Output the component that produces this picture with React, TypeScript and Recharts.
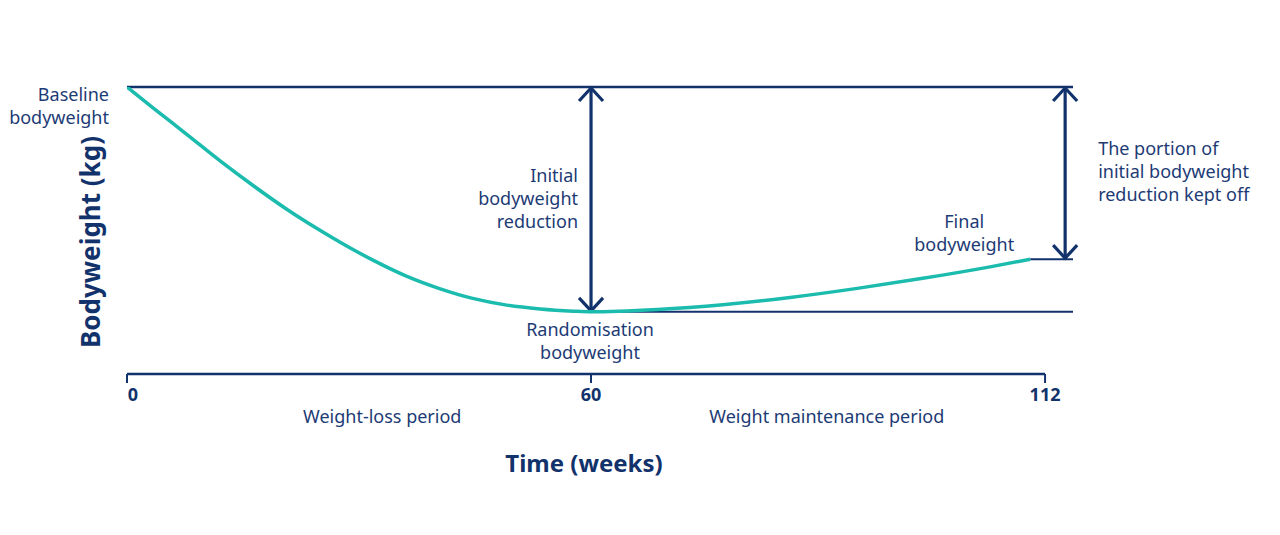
import React from "react";
import {
  LineChart,
  Line,
  XAxis,
  YAxis,
  ReferenceLine,
  ReferenceDot,
} from "recharts";

// curve: weeks since start, bodyweight (arbitrary kg)
const weeks = [0, 3.4, 7.8, 12.0, 16.3, 20.7, 25.0, 27.5, 31.8, 36.2, 40.5, 44.7, 49.1, 53.4, 57.7, 60, 67.6, 75.1, 82.8, 90.5, 98.0, 105.7, 110.3];
const bodyweight = [100, 97.8, 95.0, 92.3, 89.7, 87.2, 85.0, 83.8, 81.9, 80.2, 78.9, 77.9, 77.2, 76.8, 76.57, 76.5, 76.75, 77.25, 78.0, 78.95, 80.0, 81.2, 82.0];

const tickWeeks = [0, 60, 112];
const periodLabels = ["Weight-loss period", "Weight maintenance period"];
const periodWeeks = [33, 87];

const baselineWeight = 100;
const randomisationWeight = 76.5;
const finalWeight = 82.0;
const randomisationWeek = 60;
const finalWeek = 110.3;
const keptOffWeek = 114.3;
const endWeek = 115.2;

const data = weeks.map((w, i) => ({ week: w, weight: bodyweight[i] }));

const NAVY = "#12326c";
const TEXT = "#1d3b75";
const TEAL = "#1bbbae";
const FONT = "'Noto Sans', sans-serif";

// the picture's time axis is not linear: 0-60 and 60-112 have their own spacing
const WEEK_BREAKS = [0, 60, 112];
const SCREEN_BREAKS = [0, 464, 918];

function warp(w: number) {
  for (let i = 1; i < WEEK_BREAKS.length; i++) {
    if (w <= WEEK_BREAKS[i] || i === WEEK_BREAKS.length - 1) {
      const t = (w - WEEK_BREAKS[i - 1]) / (WEEK_BREAKS[i] - WEEK_BREAKS[i - 1]);
      return SCREEN_BREAKS[i - 1] + t * (SCREEN_BREAKS[i] - SCREEN_BREAKS[i - 1]);
    }
  }
  return 0;
}

function makeWeekScale(dom: number[] = [0, 1], rng: number[] = [0, 1]): any {
  const s: any = (w: number) => {
    const a = warp(dom[0]);
    const b = warp(dom[dom.length - 1]);
    return rng[0] + ((warp(w) - a) / (b - a)) * (rng[rng.length - 1] - rng[0]);
  };
  s.domain = (...args: any[]) => {
    if (!args.length) return dom.slice();
    dom = args[0].map(Number);
    return s;
  };
  s.range = (...args: any[]) => {
    if (!args.length) return rng.slice();
    rng = args[0].map(Number);
    return s;
  };
  s.copy = () => makeWeekScale(dom.slice(), rng.slice());
  s.ticks = () => tickWeeks;
  s.tickFormat = () => (v: number) => String(v);
  s.nice = () => s;
  s.clamp = () => s;
  s.invert = (px: number) => {
    const a = warp(dom[0]);
    const b = warp(dom[dom.length - 1]);
    const p = a + ((px - rng[0]) / (rng[rng.length - 1] - rng[0])) * (b - a);
    for (let i = 1; i < SCREEN_BREAKS.length; i++) {
      if (p <= SCREEN_BREAKS[i] || i === SCREEN_BREAKS.length - 1) {
        const t = (p - SCREEN_BREAKS[i - 1]) / (SCREEN_BREAKS[i] - SCREEN_BREAKS[i - 1]);
        return WEEK_BREAKS[i - 1] + t * (WEEK_BREAKS[i] - WEEK_BREAKS[i - 1]);
      }
    }
    return 0;
  };
  return s;
}

const weekScale = makeWeekScale();

const DoubleArrow = (p: any) => {
  const { x1, y1, x2, y2 } = p;
  const top = Math.min(y1, y2);
  const bottom = Math.max(y1, y2);
  const w = 12;
  const h = 14;
  return (
    <g stroke={NAVY} strokeWidth={3.2} fill="none">
      <line x1={x1} y1={top} x2={x2} y2={bottom} />
      <polyline points={`${x1 - w},${top + h} ${x1},${top + 1} ${x1 + w},${top + h}`} />
      <polyline points={`${x2 - w},${bottom - h} ${x2},${bottom - 1} ${x2 + w},${bottom - h}`} />
    </g>
  );
};

// multi-line note anchored to a data point; dx / first-line dy in pixels
const note = (lines: string[], dx: number, dy: number, anchor: string, size = 18, weight = 400) =>
  (p: any) => (
    <text
      x={p.cx + dx}
      y={p.cy + dy}
      textAnchor={anchor as any}
      fill={TEXT}
      fontFamily={FONT}
      fontSize={size}
      fontWeight={weight}
    >
      {lines.map((l, i) => (
        <tspan key={i} x={p.cx + dx} dy={i === 0 ? 0 : 23}>
          {l}
        </tspan>
      ))}
    </text>
  );

const WeekTick = (p: any) => {
  const { x, y, payload } = p;
  return (
    <text
      x={x + (payload.value === 0 ? 6 : 0)}
      y={y + 16}
      textAnchor="middle"
      fill={NAVY}
      fontFamily={FONT}
      fontSize={18}
      fontWeight={700}
    >
      {payload.value}
    </text>
  );
};

export default function App() {
  const midInitial = (baselineWeight + randomisationWeight) / 2;
  const midKept = (baselineWeight + finalWeight) / 2;
  return (
    <div style={{ position: "absolute", left: 0, top: 0, width: 1280, height: 535, background: "#fff" }}>
      <LineChart
        width={1280}
        height={535}
        data={data}
        margin={{ top: 87, right: 207, bottom: 121, left: 127 }}
      >
        <XAxis
          dataKey="week"
          type="number"
          scale={weekScale}
          domain={[0, endWeek]}
          allowDataOverflow
          ticks={tickWeeks}
          height={40}
          axisLine={false}
          tickLine={{ stroke: NAVY, strokeWidth: 2 }}
          tickSize={9}
          tick={<WeekTick />}
        />
        <YAxis
          type="number"
          domain={[70, 100]}
          allowDataOverflow
          width={0}
          tick={false}
          tickLine={false}
          axisLine={{ stroke: NAVY, strokeWidth: 2.5 }}
        />
        {/* x axis line stops at week 112 */}
        <ReferenceLine
          segment={[{ x: 0, y: 70 }, { x: 112, y: 70 }]}
          stroke={NAVY}
          strokeWidth={2.5}
          ifOverflow="visible"
        />
        <ReferenceLine y={baselineWeight} stroke={NAVY} strokeWidth={2.5} ifOverflow="visible" />
        <ReferenceLine
          segment={[{ x: randomisationWeek, y: randomisationWeight }, { x: endWeek, y: randomisationWeight }]}
          stroke={NAVY}
          strokeWidth={2}
          ifOverflow="visible"
        />
        <ReferenceLine
          segment={[{ x: finalWeek, y: finalWeight }, { x: endWeek, y: finalWeight }]}
          stroke={NAVY}
          strokeWidth={2}
          ifOverflow="visible"
        />
        <ReferenceLine
          segment={[{ x: randomisationWeek, y: baselineWeight }, { x: randomisationWeek, y: randomisationWeight }]}
          shape={DoubleArrow}
          ifOverflow="visible"
        />
        <ReferenceLine
          segment={[{ x: keptOffWeek, y: baselineWeight }, { x: keptOffWeek, y: finalWeight }]}
          shape={DoubleArrow}
          ifOverflow="visible"
        />
        <Line
          dataKey="weight"
          type="monotone"
          stroke={TEAL}
          strokeWidth={3.5}
          dot={false}
          activeDot={false}
          isAnimationActive={false}
        />
        <ReferenceDot x={0} y={baselineWeight} r={0} ifOverflow="visible"
          shape={note(["Baseline", "bodyweight"], -18, 14, "end")} />
        <ReferenceDot x={randomisationWeek} y={midInitial} r={0} ifOverflow="visible"
          shape={note(["Initial", "bodyweight", "reduction"], -13, -17, "end")} />
        <ReferenceDot x={randomisationWeek} y={randomisationWeight} r={0} ifOverflow="visible"
          shape={note(["Randomisation", "bodyweight"], -1, 24, "middle")} />
        <ReferenceDot x={finalWeek} y={finalWeight} r={0} ifOverflow="visible"
          shape={note(["Final", "bodyweight"], -66, -31, "middle")} />
        <ReferenceDot x={keptOffWeek} y={midKept} r={0} ifOverflow="visible"
          shape={note(["The portion of", "initial bodyweight", "reduction kept off"], 33, -18, "start")} />
        {periodLabels.map((l, i) => (
          <ReferenceDot key={l} x={periodWeeks[i]} y={70} r={0} ifOverflow="visible"
            shape={note([l], 0, 49, "middle")} />
        ))}
        <text x={584} y={472} textAnchor="middle" fill={NAVY} fontFamily={FONT} fontSize={24} fontWeight={700}>
          Time (weeks)
        </text>
        <text
          x={100}
          y={242}
          transform="rotate(-90 100 242)"
          textAnchor="middle"
          fill={NAVY}
          fontFamily={FONT}
          fontSize={26}
          fontWeight={700}
        >
          Bodyweight (kg)
        </text>
      </LineChart>
    </div>
  );
}
